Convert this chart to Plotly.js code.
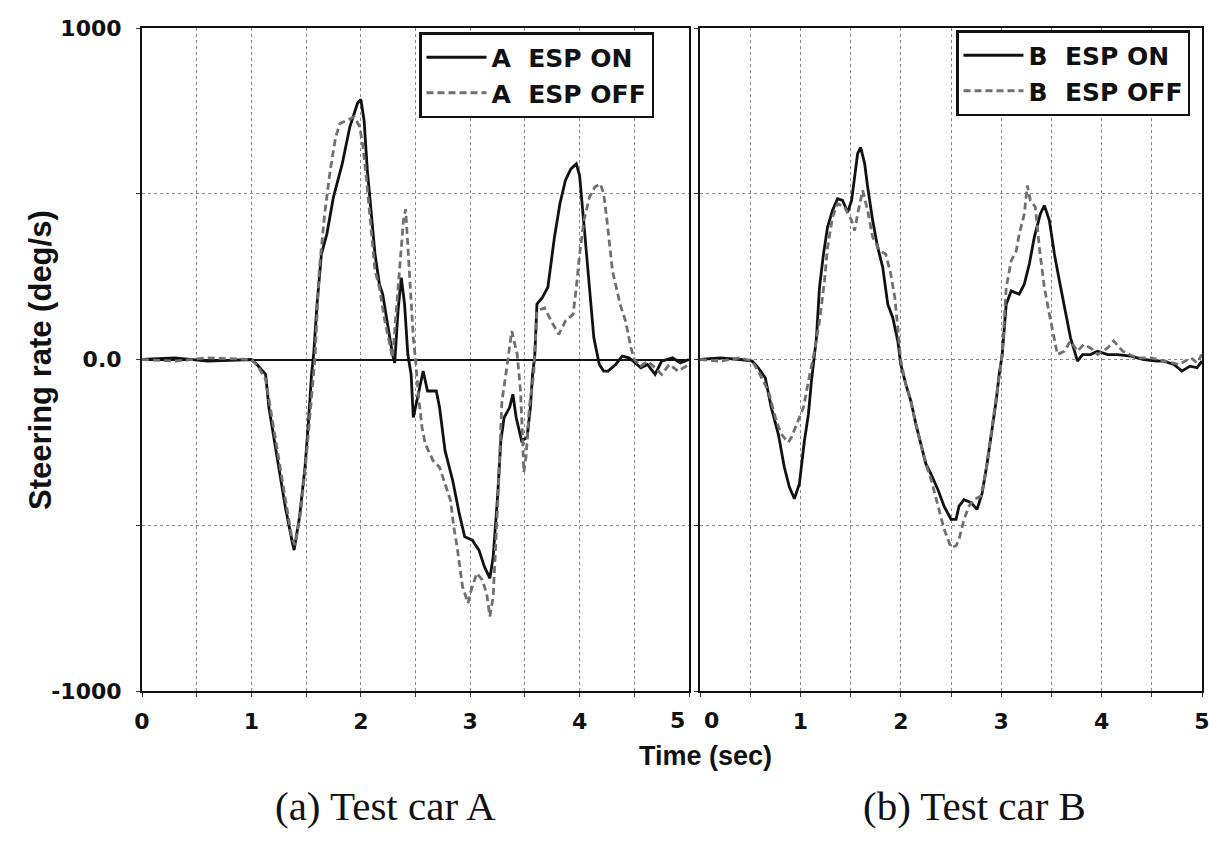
<!DOCTYPE html>
<html>
<head>
<meta charset="utf-8">
<script src="https://cdn.plot.ly/plotly-3.0.1.min.js"></script>
<style>
  html, body { margin: 0; padding: 0; background: #ffffff; }
  #chart { width: 1224px; height: 848px; }
</style>
</head>
<body>
<div id="chart"></div>
<script>
// ---- Data ----
// Test car A, ESP ON
const tA_on = [
  0, 0.3, 0.6, 0.9, 1.0, 1.05, 1.13, 1.16, 1.21, 1.26,
  1.31, 1.37, 1.39, 1.44, 1.49, 1.52, 1.55, 1.57, 1.60, 1.64,
  1.69, 1.75, 1.83, 1.90, 1.97, 2.0, 2.03, 2.06, 2.10, 2.13,
  2.17, 2.20, 2.24, 2.29, 2.31, 2.34, 2.37, 2.40, 2.43, 2.46,
  2.48, 2.50, 2.57, 2.61, 2.69, 2.72, 2.77, 2.84, 2.90, 2.95,
  3.02, 3.08, 3.13, 3.18, 3.21, 3.25, 3.28, 3.31, 3.36, 3.39,
  3.42, 3.47, 3.52, 3.55, 3.57, 3.59, 3.61, 3.66, 3.71, 3.77,
  3.82, 3.87, 3.92, 3.97, 4.0, 4.05, 4.09, 4.13, 4.18, 4.22,
  4.26, 4.33, 4.39, 4.45, 4.49, 4.56, 4.62, 4.69, 4.75, 4.85,
  4.92, 5.0
];
const vA_on = [
  0, 5, -5, 0, 0, -15, -45, -145, -245, -345,
  -445, -545, -575, -475, -325, -195, -45, 20, 167, 318,
  379, 490, 590, 702, 773, 785, 722, 570, 420, 318,
  227, 197, 116, 15, -10, 146, 247, 167, 15, -45,
  -175, -145, -35, -95, -95, -145, -275, -365, -465, -535,
  -545, -575, -625, -660, -595, -415, -245, -175, -145, -105,
  -175, -245, -235, -145, -45, 10, 167, 187, 218, 369,
  470, 540, 575, 590, 555, 369, 218, 66, -15, -35,
  -35, -15, 10, 5, -5, -25, -15, -45, -5, 5,
  -10, 0
];
// Test car A, ESP OFF
const tA_off = [
  0, 0.3, 0.6, 0.9, 1.0, 1.06, 1.13, 1.18, 1.23, 1.28,
  1.33, 1.37, 1.40, 1.45, 1.50, 1.54, 1.58, 1.62, 1.67, 1.72,
  1.77, 1.81, 1.88, 1.94, 1.99, 2.02, 2.05, 2.09, 2.13, 2.17,
  2.22, 2.29, 2.34, 2.39, 2.41, 2.45, 2.48, 2.50, 2.53, 2.56,
  2.59, 2.66, 2.72, 2.77, 2.82, 2.85, 2.88, 2.93, 2.98, 3.01,
  3.06, 3.11, 3.15, 3.18, 3.21, 3.25, 3.29, 3.33, 3.38, 3.43,
  3.46, 3.48, 3.49, 3.51, 3.54, 3.58, 3.61, 3.68, 3.74, 3.81,
  3.87, 3.94, 3.97, 4.0, 4.04, 4.09, 4.14, 4.19, 4.22, 4.25,
  4.30, 4.37, 4.42, 4.47, 4.50, 4.56, 4.62, 4.69, 4.75, 4.82,
  4.90, 5.0
];
const vA_off = [
  0, -5, 5, 0, 0, -20, -60, -160, -260, -360,
  -460, -540, -560, -460, -300, -150, 0, 268, 440, 570,
  671, 712, 722, 732, 702, 641, 550, 420, 268, 217,
  116, 5, 217, 420, 453, 217, 66, 0, -120, -205,
  -255, -305, -325, -375, -425, -505, -565, -685, -735, -695,
  -645, -665, -705, -775, -715, -445, -125, -35, 86, 15,
  -95, -245, -340, -295, -145, -45, 146, 156, 116, 76,
  116, 136, 217, 318, 420, 490, 520, 530, 500, 420,
  268, 167, 116, 35, 0, -20, -5, -25, -45, -15,
  -35, -15
];
// Test car B, ESP ON
const tB_on = [
  0, 0.2, 0.4, 0.52, 0.58, 0.65, 0.71, 0.78, 0.84, 0.89,
  0.94, 0.99, 1.04, 1.08, 1.11, 1.14, 1.16, 1.19, 1.23, 1.27,
  1.32, 1.37, 1.42, 1.47, 1.51, 1.54, 1.57, 1.60, 1.64, 1.67,
  1.72, 1.77, 1.82, 1.87, 1.92, 1.97, 2.0, 2.05, 2.10, 2.15,
  2.20, 2.25, 2.30, 2.37, 2.43, 2.50, 2.55, 2.58, 2.63, 2.70,
  2.76, 2.81, 2.86, 2.91, 2.95, 2.98, 3.01, 3.05, 3.10, 3.18,
  3.23, 3.28, 3.33, 3.39, 3.43, 3.48, 3.53, 3.58, 3.63, 3.69,
  3.76, 3.81, 3.89, 3.96, 4.06, 4.16, 4.29, 4.42, 4.55, 4.62,
  4.72, 4.80, 4.88, 4.95, 5.0
];
const vB_on = [
  0, 5, 0, -5, -25, -55, -145, -225, -325, -385,
  -420, -375, -245, -165, -65, 25, 66, 217, 318, 399,
  450, 485, 480, 444, 480, 550, 621, 640, 591, 520,
  419, 338, 278, 167, 126, 56, -15, -75, -125, -195,
  -255, -315, -345, -393, -442, -482, -482, -442, -423, -432,
  -452, -403, -313, -214, -124, -45, 15, 167, 207, 197,
  227, 288, 369, 439, 465, 419, 318, 237, 157, 66,
  -5, 15, 15, 25, 15, 15, 10, 0, -5, -5,
  -15, -35, -20, -25, -5
];
// Test car B, ESP OFF
const tB_off = [
  0, 0.2, 0.4, 0.52, 0.58, 0.68, 0.76, 0.81, 0.85, 0.88,
  0.91, 0.96, 1.03, 1.08, 1.11, 1.14, 1.19, 1.24, 1.27, 1.32,
  1.37, 1.44, 1.51, 1.54, 1.57, 1.62, 1.67, 1.72, 1.79, 1.85,
  1.90, 1.94, 1.97, 2.0, 2.05, 2.10, 2.15, 2.20, 2.25, 2.30,
  2.37, 2.43, 2.50, 2.55, 2.58, 2.63, 2.68, 2.73, 2.80, 2.85,
  2.90, 2.95, 2.98, 3.01, 3.05, 3.10, 3.15, 3.18, 3.23, 3.26,
  3.29, 3.34, 3.38, 3.43, 3.48, 3.53, 3.56, 3.63, 3.69, 3.76,
  3.82, 3.89, 3.96, 4.06, 4.12, 4.21, 4.35, 4.49, 4.62, 4.77,
  4.89, 4.95, 5.0
];
const vB_off = [
  0, -5, 5, -5, -35, -95, -185, -225, -240, -250,
  -235, -195, -145, -65, -25, 25, 116, 237, 338, 429,
  470, 460, 419, 389, 439, 510, 449, 369, 328, 318,
  258, 187, 96, -5, -75, -125, -195, -255, -315, -360,
  -440, -510, -567, -562, -542, -482, -442, -422, -412, -333,
  -224, -114, -45, 15, 217, 298, 328, 379, 439, 525,
  480, 460, 338, 217, 136, 56, 15, 25, 56, 25,
  45, 35, 15, 35, 56, 25, 5, 5, -5, -15,
  5, -10, 15
];

// Axis ticks / labels
const xTickVals = [0, 0.5, 1, 1.5, 2, 2.5, 3, 3.5, 4, 4.5, 5];
// The two labels that meet at the panel boundary ('5' of A, '0' of B) are drawn as annotations
const xTickTextA = ['0', '', '1', '', '2', '', '3', '', '4', '', ''];
const xTickTextB = ['', '', '1', '', '2', '', '3', '', '4', '', '5'];
const edgeLabelA = '5';
const edgeLabelB = '0';
const yTickVals = [-1000, -500, 0, 500, 1000];
const yTickText = ['-1000', '', '0.0', '', '1000'];
const seriesNames = ['A  ESP ON', 'A  ESP OFF', 'B  ESP ON', 'B  ESP OFF'];
const xTitle = 'Time (sec)';
const yTitle = 'Steering rate (deg/s)';
const captions = ['(a) Test car A', '(b) Test car B'];

// ---- Styles ----
const onLine = { color: '#111111', width: 2.8 };
const offLine = { color: '#707070', width: 2.8, dash: '7px,4px' };
const boldFont = 'DejaVu Sans, Liberation Sans, Arial, sans-serif';
const titleFont = 'Liberation Sans, Arial, sans-serif';
const tickFont = { family: boldFont, size: 22, color: '#111', weight: 'bold' };

const traces = [
  { x: tA_on, y: vA_on, name: seriesNames[0], type: 'scatter', mode: 'lines', line: onLine, xaxis: 'x', yaxis: 'y', legend: 'legend' },
  { x: tA_off, y: vA_off, name: seriesNames[1], type: 'scatter', mode: 'lines', line: offLine, xaxis: 'x', yaxis: 'y', legend: 'legend' },
  { x: tB_on, y: vB_on, name: seriesNames[2], type: 'scatter', mode: 'lines', line: onLine, xaxis: 'x2', yaxis: 'y2', legend: 'legend2' },
  { x: tB_off, y: vB_off, name: seriesNames[3], type: 'scatter', mode: 'lines', line: offLine, xaxis: 'x2', yaxis: 'y2', legend: 'legend2' }
];

const W = 1224, H = 848;
const px = v => v / W;
const py = v => 1 - v / H;

const commonX = {
  range: [0, 5],
  tickmode: 'array', tickvals: xTickVals,
  showgrid: true, gridcolor: '#8a8a8a', gridwidth: 1, griddash: 'dot',
  zeroline: false,
  showline: true, linecolor: '#111', linewidth: 2, mirror: true,
  ticks: 'outside', ticklen: 4, tickcolor: '#333',
  tickfont: tickFont,
  ticklabelstandoff: 6,
  fixedrange: true
};
const commonY = {
  range: [-1000, 1000],
  tickmode: 'array', tickvals: yTickVals, ticktext: yTickText,
  showgrid: true, gridcolor: '#8a8a8a', gridwidth: 1, griddash: 'dot',
  showline: true, linecolor: '#111', linewidth: 2, mirror: true,
  ticks: 'outside', ticklen: 4, tickcolor: '#333',
  tickfont: tickFont,
  fixedrange: true
};

const legendCommon = {
  xanchor: 'left', yanchor: 'top',
  bgcolor: '#ffffff', bordercolor: '#111', borderwidth: 2.5,
  font: { family: boldFont, size: 25, color: '#111', weight: 'bold' },
  itemwidth: 60, tracegroupgap: 0
};

const layout = {
  width: W, height: H,
  margin: { l: 0, r: 0, t: 0, b: 0 },
  paper_bgcolor: '#ffffff', plot_bgcolor: '#ffffff',
  showlegend: true,
  xaxis: Object.assign({}, commonX, { domain: [px(142), px(689)], anchor: 'y', ticktext: xTickTextA }),
  yaxis: Object.assign({}, commonY, { domain: [1 - 691 / H, 1 - 28 / H], anchor: 'x',
    zeroline: true, zerolinecolor: '#111', zerolinewidth: 2, ticklabelstandoff: 10 }),
  xaxis2: Object.assign({}, commonX, { domain: [px(700), px(1202)], anchor: 'y2', ticktext: xTickTextB }),
  yaxis2: Object.assign({}, commonY, { domain: [1 - 691 / H, 1 - 28 / H], anchor: 'x2',
    zeroline: false, showticklabels: false }),
  legend: Object.assign({}, legendCommon, { x: px(419), y: py(32) }),
  legend2: Object.assign({}, legendCommon, { x: px(956), y: py(30) }),
  annotations: [
    { text: edgeLabelA, xref: 'paper', yref: 'paper', x: px(677), y: py(720), showarrow: false,
      xanchor: 'center', yanchor: 'middle', font: tickFont },
    { text: edgeLabelB, xref: 'paper', yref: 'paper', x: px(711), y: py(720), showarrow: false,
      xanchor: 'center', yanchor: 'middle', font: tickFont },
    { text: xTitle, xref: 'paper', yref: 'paper', x: px(706), y: py(756), showarrow: false,
      xanchor: 'center', yanchor: 'middle',
      font: { family: titleFont, size: 27, color: '#111', weight: 'bold' } },
    { text: yTitle, xref: 'paper', yref: 'paper', x: px(40), y: py(360), showarrow: false,
      textangle: -90, xanchor: 'center', yanchor: 'middle',
      font: { family: titleFont, size: 31, color: '#111', weight: 'bold' } },
    { text: captions[0], xref: 'paper', yref: 'paper', x: px(385), y: py(806), showarrow: false,
      xanchor: 'center', yanchor: 'middle',
      font: { family: 'Liberation Serif, Times New Roman, serif', size: 41, color: '#111' } },
    { text: captions[1], xref: 'paper', yref: 'paper', x: px(975), y: py(806), showarrow: false,
      xanchor: 'center', yanchor: 'middle',
      font: { family: 'Liberation Serif, Times New Roman, serif', size: 41, color: '#111' } }
  ]
};

Plotly.newPlot('chart', traces, layout, { staticPlot: true, displayModeBar: false });
</script>
</body>
</html>
